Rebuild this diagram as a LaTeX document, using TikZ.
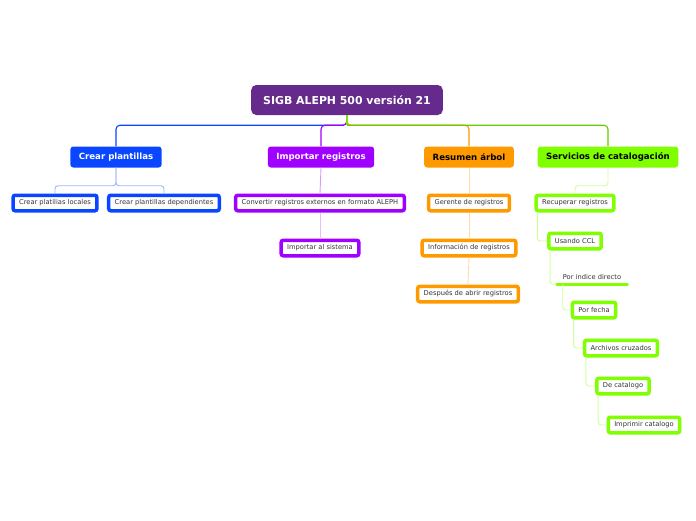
\documentclass[tikz,border=0pt]{standalone}
\usepackage{fontspec}
\setmainfont{DejaVu Sans}
\usetikzlibrary{positioning}
\definecolor{rootColor}{HTML}{66298C}
\definecolor{plantColor}{HTML}{0A46FF}
\definecolor{importColor}{HTML}{A000FF}
\definecolor{resumColor}{HTML}{FF9900}
\definecolor{servColor}{HTML}{80FF00}
\definecolor{textGray}{HTML}{333333}

\begin{document}
\begin{tikzpicture}[x=1pt, y=-1pt, every node/.style={font=\fontsize{6.7}{8}\selectfont}]
	\tikzset{raiz/.style={fill=rootColor, rounded corners=5pt, text=white, inner xsep=12pt,
			minimum height=30pt, font=\fontsize{10.9}{13}\selectfont\bfseries},
		rama/.style={fill=#1, rounded corners=3pt, inner xsep=8.5pt, minimum height=21pt,
			font=\fontsize{8.6}{10}\selectfont\bfseries},
		hoja/.style={draw=#1, fill=white, line width=3.5pt, rounded corners=2pt, text=textGray,
			inner xsep=6pt, minimum height=15.5pt},
		enlace/.style={draw=#1, line width=1.1pt, rounded corners=4pt},
		sublink/.style={draw=#1, line width=0.9pt, rounded corners=3pt}}
	\useasboundingbox (0,0) rectangle (696,520);
	% raiz y ramas
	\node[raiz] (root) at (347,100) {SIGB ALEPH 500 versión 21};
	\node[rama=plantColor, text=white] (plant) at (116,157) {Crear plantillas};
	\node[rama=importColor, text=white] (import) at (321,157) {Importar registros};
	\node[rama=resumColor, text=black] (resum) at (469,157) {Resumen árbol};
	\node[rama=servColor, text=black] (serv) at (608,157) {Servicios de catalogación};
	\draw[enlace=plantColor] (root.south) -- ++(0,10) -| (plant.north);
	\draw[enlace=resumColor] (root.south) -- ++(0,10) -| (resum.north);
	\draw[enlace=importColor] (root.south) -- ++(0,10) -| (import.north);
	\draw[enlace=servColor!85!rootColor] (root.south) -- ++(0,10);
	\draw[enlace=servColor!80!black] ([yshift=-10pt]root.south) -| (serv.north);
	% Crear plantillas
	\node[hoja=plantColor] (locales) at (55,203) {Crear platilias locales};
	\node[hoja=plantColor] (depend) at (164,203) {Crear plantillas dependientes};
	\draw[sublink=plantColor!40] (plant.south) -- ++(0,18) -| (locales.north);
	\draw[sublink=plantColor!40] (plant.south) -- ++(0,18) -| (depend.north);
	% Importar registros
	\node[hoja=importColor] (convert) at (320,203) {Convertir registros externos en formato ALEPH};
	\node[hoja=importColor] (sistema) at (320,248) {Importar al sistema};
	\draw[sublink=importColor!40] (import.south) -- (convert.north);
	\draw[sublink=importColor!25] (convert.south) -- (sistema.north);
	% Resumen arbol
	\node[hoja=resumColor] (gerente) at (469,203) {Gerente de registros};
	\node[hoja=resumColor] (info) at (469,248) {Información de registros};
	\node[hoja=resumColor] (despues) at (468,294) {Después de abrir registros};
	\draw[sublink=resumColor!35] (resum.south) -- (gerente.north);
	\draw[sublink=resumColor!35] (gerente.south) -- (info.north);
	\draw[sublink=resumColor!35] (info.south) -- (despues.north);
	% Servicios de catalogacion
	\node[hoja=servColor] (recup) at (575,203) {Recuperar registros};
	\node[hoja=servColor] (ccl) at (575,241) {Usando CCL};
	\node[text=textGray, inner xsep=6pt, minimum height=14pt] (indice) at (592,277) {Por indice directo};
	\node[hoja=servColor] (fecha) at (594,310) {Por fecha};
	\node[hoja=servColor] (cruzados) at (621,348) {Archivos cruzados};
	\node[hoja=servColor] (decat) at (623,386) {De catalogo};
	\node[hoja=servColor] (imprimir) at (644,425) {Imprimir catalogo};
	\draw[servColor, line width=3pt, line cap=round] (indice.south west) -- (indice.south east);
	\draw[sublink=servColor!40] (serv.south) -- ++(0,18) -| (recup.north);
	\draw[sublink=servColor!40] ([xshift=3pt]recup.south west) |- (ccl.west);
	\draw[sublink=servColor!40] ([xshift=3pt]ccl.south west) |- (indice.south west);
	\draw[sublink=servColor!40] ([xshift=6pt]indice.south west) |- (fecha.west);
	\draw[sublink=servColor!40] ([xshift=3pt]fecha.south west) |- (cruzados.west);
	\draw[sublink=servColor!40] ([xshift=3pt]cruzados.south west) |- (decat.west);
	\draw[sublink=servColor!40] ([xshift=3pt]decat.south west) |- (imprimir.west);
\end{tikzpicture}
\end{document}
